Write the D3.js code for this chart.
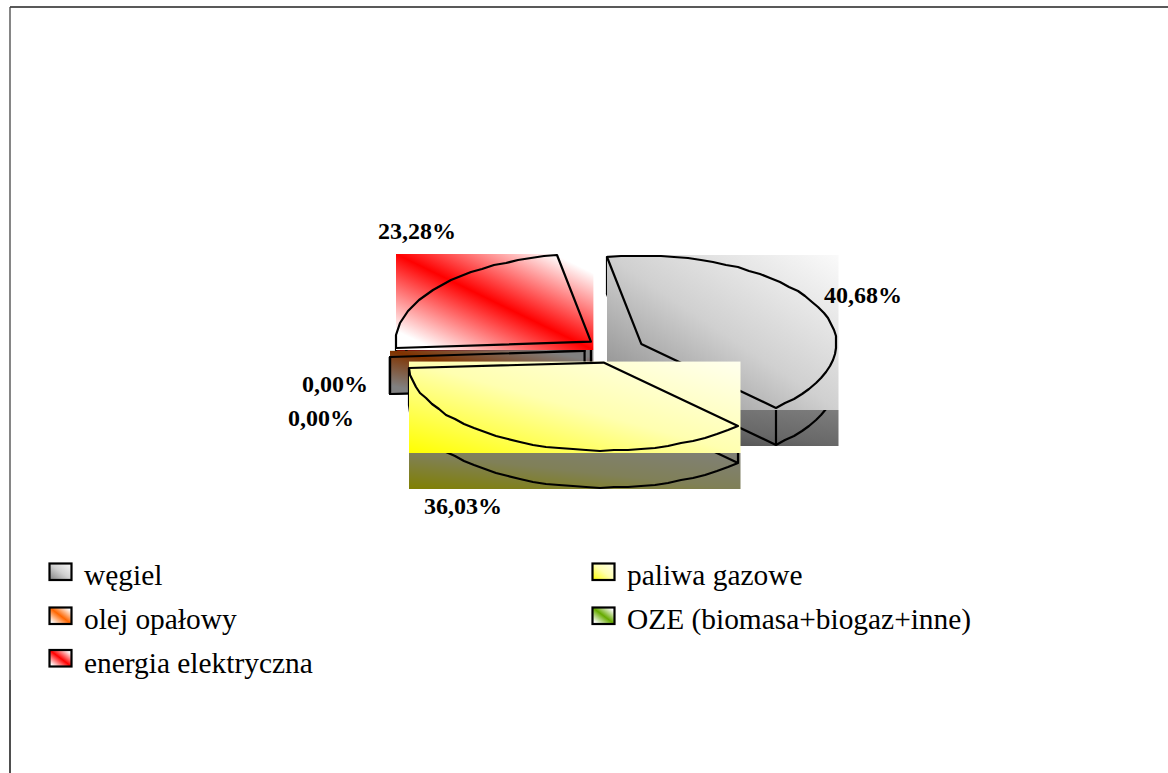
<!DOCTYPE html>
<html>
<head>
<meta charset="utf-8">
<script src="https://cdnjs.cloudflare.com/ajax/libs/d3/7.8.5/d3.min.js"></script>
<style>
html,body{margin:0;padding:0;background:#fff;overflow:hidden}
svg{display:block}
text{font-family:"Liberation Serif","Times New Roman",serif;fill:#000}
</style>
</head>
<body>
<svg id="chart" width="1168" height="773"></svg>
<script>
// Fuel shares, legend order
const categories = ["węgiel", "olej opałowy", "energia elektryczna", "paliwa gazowe", "OZE (biomasa+biogaz+inne)"];
const shares = [40.68, 0, 23.28, 36.03, 0];
const baseColors = ["#808080", "#ff6600", "#ff0000", "#ffff00", "#66aa00"];
const midColors = ["#d0d0d0", null, null, "#ffffb0", null];
const paleColors = ["#fafafa", "#ffffff", "#ffffff", "#ffffee", "#ffffff"];
// Clockwise sequence of the slices around the pie, by category index
const clockwise = [0, 3, 4, 1, 2];

const W = 1168, H = 773;
const pieLayout = {cx: 614.5, cy: 350, rx: 195, ry: 88, explodeX: 30, explodeY: 13.5, depth: 37, start: -10};
const labelAnchors = [[863, 303], [335, 392], [417, 239], [463, 514], [321, 426]];
const legendCols = [[49.5, 563.5, 84, 585], [49.5, 607.5, 84, 629], [49.5, 650, 84, 673], [592.5, 563.5, 627, 585], [592.5, 607.5, 627, 629]];
const strokeW = 2.2;

const svg = d3.select("#chart");
const defs = svg.append("defs");
const fmt = v => v.toFixed(2).replace(".", ",") + "%";

function shade(c, k) {
  const q = d3.rgb(c);
  return d3.rgb(q.r * k, q.g * k, q.b * k).formatHex();
}

// Diagonal ramps: the sequential fuels run base to pale, the banded ones pale-base-pale
function gradient(id, i, k) {
  const g = defs.append("linearGradient").attr("id", id)
    .attr("x1", 0).attr("y1", 1).attr("x2", 1).attr("y2", 0);
  const banded = midColors[i] === null;
  const stops = banded
    ? [[0.1, paleColors[i]], [0.5, baseColors[i]], [0.9, paleColors[i]]]
    : [[0, baseColors[i]], [0.5, midColors[i]], [1, paleColors[i]]];
  stops.forEach(([o, c]) => g.append("stop").attr("offset", o).attr("stop-color", shade(c, k)));
}
categories.forEach((_, i) => { gradient("top" + i, i, 1); gradient("wall" + i, i, 0.5); });

// Frame: top and left rules only
const line = d3.line();
svg.append("path").attr("d", line([[10, 7], [W, 7]]))
  .attr("fill", "none").attr("stroke", "#222").attr("stroke-width", 1.6);
svg.append("path").attr("d", line([[10, 7], [10, 680]]))
  .attr("fill", "none").attr("stroke", "#444").attr("stroke-width", 1.3);
svg.append("path").attr("d", line([[10, 680], [10, H]]))
  .attr("fill", "none").attr("stroke", "#222").attr("stroke-width", 1.6);

// Pie angles through d3.pie, tilted by the rx/ry ellipse
const L = pieLayout;
const rad = Math.PI / 180;
const arcs = d3.pie()
  .value(i => shares[i])
  .sort((a, b) => clockwise.indexOf(a) - clockwise.indexOf(b))
  .startAngle(L.start * rad)
  .endAngle((L.start + 360) * rad)(categories.map((_, i) => i));

const slices = arcs.map(a => {
  const i = a.data, mid = (a.startAngle + a.endAngle) / 2;
  const ox = L.cx + L.explodeX * Math.sin(mid), oy = L.cy - L.explodeY * Math.cos(mid);
  // Rim vertices snap to whole pixels, which gives the outline its stepped look
  const at = t => [Math.round(ox + L.rx * Math.sin(t)), Math.round(oy - L.ry * Math.cos(t))];
  const n = Math.max(1, Math.round((a.endAngle - a.startAngle) / (4 * rad)));
  const rim = d3.range(n + 1).map(j => at(a.startAngle + (a.endAngle - a.startAngle) * j / n));
  return {i, apex: [ox, oy], rim, zero: shares[i] === 0};
});

const drop = p => [p[0], p[1] + L.depth];

function box(pts) {
  const xs = pts.map(p => p[0]), ys = pts.map(p => p[1]);
  return {x0: d3.min(xs), x1: d3.max(xs), y0: d3.min(ys), y1: d3.max(ys)};
}

function stroked(sel) {
  return sel.attr("fill", "none").attr("stroke", "#000").attr("stroke-width", strokeW)
    .attr("stroke-linejoin", "round");
}

function drawWall(s) {
  const g = svg.append("g");
  const outline = [s.apex, ...s.rim];
  const b = box(outline);
  if (s.zero) {
    g.append("rect").attr("x", b.x0).attr("y", b.y0)
      .attr("width", b.x1 - b.x0 + 2).attr("height", b.y1 - b.y0 + L.depth)
      .attr("fill", `url(#wall${s.i})`);
  } else {
    g.append("rect").attr("x", b.x0).attr("y", b.y1 + 2)
      .attr("width", b.x1 - b.x0 + 2.5).attr("height", L.depth - 1)
      .attr("fill", `url(#wall${s.i})`);
  }
  const lower = outline.map(drop);
  stroked(g.append("path").attr("d", line(lower) + "Z"));
  [s.apex, s.rim[0], s.rim[s.rim.length - 1]].forEach(p => {
    stroked(g.append("path").attr("d", line([p, drop(p)])));
  });
  if (s.zero) stroked(g.append("path").attr("d", line(outline) + "Z"));
}

function drawTop(s) {
  const g = svg.append("g");
  const outline = [s.apex, ...s.rim];
  const b = box(outline);
  g.append("rect").attr("x", b.x0).attr("y", b.y0 - 1)
    .attr("width", b.x1 - b.x0 + 2.5).attr("height", b.y1 - b.y0 + 3)
    .attr("fill", `url(#top${s.i})`);
  stroked(g.append("path").attr("d", line(outline) + "Z"));
}

// Paint back to front: electricity, the empty slices, coal, then gas in front
const byCat = i => slices.find(s => s.i === i);
drawWall(byCat(2));
drawWall(byCat(4));
drawWall(byCat(1));
drawTop(byCat(2));
drawWall(byCat(0));
drawTop(byCat(0));
drawWall(byCat(3));
drawTop(byCat(3));

// Value labels
svg.append("g").selectAll("text").data(shares).join("text")
  .attr("x", (d, i) => labelAnchors[i][0])
  .attr("y", (d, i) => labelAnchors[i][1])
  .attr("text-anchor", "middle")
  .attr("font-weight", "bold")
  .attr("font-size", 24)
  .text(fmt);

// Legend
const legend = svg.append("g").selectAll("g").data(categories).join("g");
legend.append("rect")
  .attr("x", (d, i) => legendCols[i][0])
  .attr("y", (d, i) => legendCols[i][1])
  .attr("width", 22).attr("height", 16.5)
  .attr("fill", (d, i) => `url(#top${i})`)
  .attr("stroke", "#000").attr("stroke-width", strokeW);
legend.append("text")
  .attr("x", (d, i) => legendCols[i][2])
  .attr("y", (d, i) => legendCols[i][3])
  .attr("font-size", 29.4)
  .text(d => d);
</script>
</body>
</html>
